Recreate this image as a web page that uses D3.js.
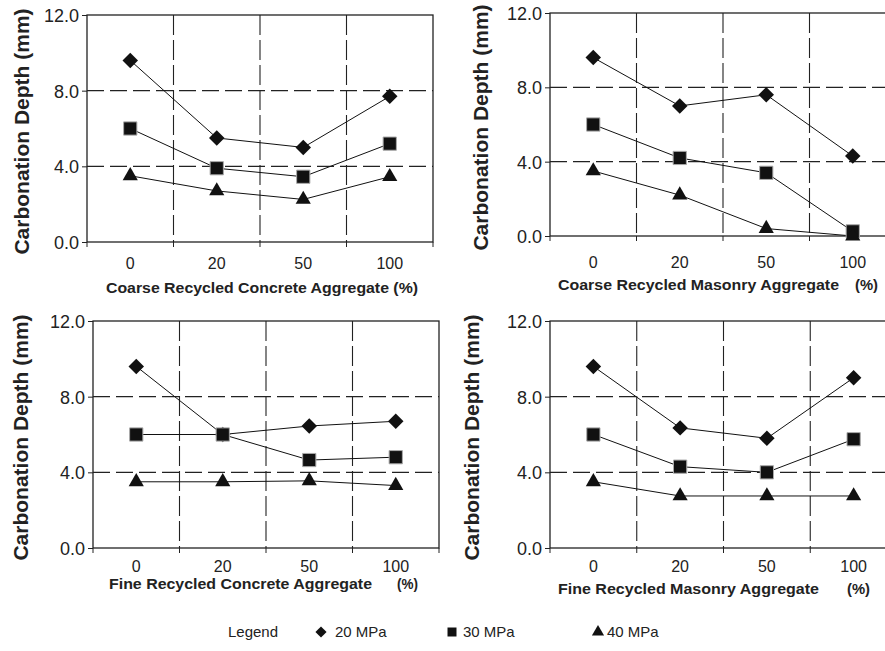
<!DOCTYPE html>
<html>
<head>
<meta charset="utf-8">
<script src="https://cdn.jsdelivr.net/npm/d3@7"></script>
<style>
  body { margin: 0; background: #fff; }
  svg { display: block; font-family: "Liberation Sans", Arimo, Arial, Helvetica, sans-serif; }
</style>
</head>
<body>
<div id="chart"></div>
<script>
// data (carbonation depth, mm)
const categories = ["0", "20", "50", "100"];
const yTicks = [0, 4, 8, 12];
const seriesNames = ["20 MPa", "30 MPa", "40 MPa"];

const coarseConcrete20 = [9.6, 5.5, 5.0, 7.7];
const coarseConcrete30 = [6.0, 3.9, 3.45, 5.2];
const coarseConcrete40 = [3.5, 2.7, 2.25, 3.45];

const coarseMasonry20 = [9.6, 7.0, 7.6, 4.3];
const coarseMasonry30 = [6.0, 4.2, 3.4, 0.25];
const coarseMasonry40 = [3.5, 2.2, 0.4, 0.0];

const fineConcrete20 = [9.6, 6.0, 6.45, 6.7];
const fineConcrete30 = [6.0, 6.0, 4.65, 4.8];
const fineConcrete40 = [3.5, 3.5, 3.55, 3.3];

const fineMasonry20 = [9.6, 6.35, 5.8, 9.0];
const fineMasonry30 = [6.0, 4.3, 4.0, 5.75];
const fineMasonry40 = [3.5, 2.75, 2.75, 2.75];

const W = 885, H = 651;
const svg = d3.select("#chart").append("svg")
    .attr("width", W)
    .attr("height", H);

// panel layout
const panels = [
    { series: [coarseConcrete20, coarseConcrete30, coarseConcrete40],
      left: 87, right: 433, top: 15, bottom: 242,
      yTitleX: 29, tickY: 269,
      xTitle: "Coarse Recycled Concrete Aggregate (%)", xTitleX: 106, xTitleW: 312, xTitleY: 293,
      pct: null },
    { series: [coarseMasonry20, coarseMasonry30, coarseMasonry40],
      left: 550, right: 896, top: 13, bottom: 236,
      yTitleX: 488, tickY: 268,
      xTitle: "Coarse Recycled Masonry Aggregate", xTitleX: 558, xTitleW: 281, xTitleY: 290,
      pct: { x: 855, w: 23 } },
    { series: [fineConcrete20, fineConcrete30, fineConcrete40],
      left: 93, right: 439, top: 321, bottom: 548,
      yTitleX: 28, tickY: 572,
      xTitle: "Fine Recycled Concrete Aggregate", xTitleX: 109, xTitleW: 263, xTitleY: 589,
      pct: { x: 397, w: 21 } },
    { series: [fineMasonry20, fineMasonry30, fineMasonry40],
      left: 550, right: 897, top: 321, bottom: 548,
      yTitleX: 479, tickY: 572,
      xTitle: "Fine Recycled Masonry Aggregate", xTitleX: 558, xTitleW: 261, xTitleY: 594,
      pct: { x: 847, w: 23 } }
];

// markers: diamond, square, triangle
const diamondPath = d3.symbol().type(d3.symbolSquare).size(120)();
const markers = [
    sel => sel.append("path").attr("d", diamondPath).attr("transform", "rotate(45)")
        .attr("fill", "#111"),
    sel => sel.append("path").attr("d", d3.symbol().type(d3.symbolSquare).size(175)())
        .attr("fill", "#111").attr("stroke", "#aaa").attr("stroke-width", 1),
    sel => sel.append("path").attr("d", d3.symbol().type(d3.symbolTriangle).size(100)())
        .attr("fill", "#111")
];

panels.forEach(p => {
    const g = svg.append("g");

    const x = d3.scaleBand().domain(categories).range([p.left, p.right]);
    const y = d3.scaleLinear().domain([0, 12]).range([p.bottom, p.top]);

    // dashed grid
    g.selectAll(".hgrid")
        .data([4, 8])
        .enter().append("line")
        .attr("x1", p.left).attr("x2", p.right)
        .attr("y1", d => y(d)).attr("y2", d => y(d))
        .attr("stroke", "#222").attr("stroke-width", 1.1)
        .attr("stroke-dasharray", "17,6");
    g.selectAll(".vgrid")
        .data(categories.slice(1))
        .enter().append("line")
        .attr("x1", d => x(d)).attr("x2", d => x(d))
        .attr("y1", p.top).attr("y2", p.bottom)
        .attr("stroke", "#222").attr("stroke-width", 1.1)
        .attr("stroke-dasharray", "20,5");

    // frame
    g.append("rect")
        .attr("x", p.left).attr("y", p.top)
        .attr("width", p.right - p.left).attr("height", p.bottom - p.top)
        .attr("fill", "none").attr("stroke", "#222").attr("stroke-width", 1.3);

    // y axis
    const yAxis = g.append("g")
        .attr("transform", `translate(${p.left},0)`)
        .call(d3.axisLeft(y).tickValues(yTicks).tickFormat(d3.format(".1f")).tickSize(5).tickPadding(3));
    yAxis.select(".domain").remove();
    yAxis.selectAll("line").attr("stroke", "#222");
    yAxis.selectAll("text")
        .attr("fill", "#222")
        .style("font-size", "18px")
        .attr("dy", "0.36em");

    // x ticks at category boundaries
    const bounds = categories.map(c => x(c)).concat([x.range()[1]]);
    g.selectAll(".xtick")
        .data(bounds)
        .enter().append("line")
        .attr("x1", d => d).attr("x2", d => d)
        .attr("y1", p.bottom).attr("y2", p.bottom + 5)
        .attr("stroke", "#222");
    g.selectAll(".xlabel")
        .data(categories)
        .enter().append("text")
        .attr("x", d => x(d) + x.bandwidth() / 2)
        .attr("y", p.tickY)
        .attr("text-anchor", "middle")
        .attr("fill", "#222")
        .style("font-size", "16px")
        .text(d => d);

    // lines and markers
    p.series.forEach(vals => {
        const pts = vals.map((v, i) => [x(categories[i]) + x.bandwidth() / 2, y(v)]);
        g.append("path")
            .attr("d", d3.line()(pts))
            .attr("fill", "none")
            .attr("stroke", "#111")
            .attr("stroke-width", 1);
    });
    p.series.forEach((vals, si) => {
        vals.forEach((v, i) => {
            const m = g.append("g")
                .attr("transform", `translate(${x(categories[i]) + x.bandwidth() / 2},${y(v)})`);
            markers[si](m);
        });
    });

    // axis titles
    g.append("text")
        .attr("transform", `translate(${p.yTitleX},${(p.top + p.bottom) / 2 + 3}) rotate(-90)`)
        .attr("text-anchor", "middle")
        .attr("fill", "#222")
        .style("font-size", "21px")
        .style("font-weight", "bold")
        .text("Carbonation Depth (mm)");

    g.append("text")
        .attr("x", p.xTitleX)
        .attr("y", p.xTitleY)
        .attr("textLength", p.xTitleW)
        .attr("lengthAdjust", "spacingAndGlyphs")
        .attr("fill", "#222")
        .style("font-size", "15px")
        .style("font-weight", "bold")
        .text(p.xTitle);
    if (p.pct) {
        g.append("text")
            .attr("x", p.pct.x)
            .attr("y", p.xTitleY)
            .attr("textLength", p.pct.w)
            .attr("lengthAdjust", "spacingAndGlyphs")
            .attr("fill", "#222")
            .style("font-size", "15px")
            .style("font-weight", "bold")
            .text("(%)");
    }
});

// legend
const legend = svg.append("g").style("font-size", "15px").attr("fill", "#222");
legend.append("text").attr("x", 228).attr("y", 637).text("Legend");
const legendPos = [
    { mx: 321, tx: 335, scale: 0.72 },
    { mx: 452, tx: 463, scale: 0.68 },
    { mx: 598, tx: 607, scale: 0.8 }
];
seriesNames.forEach((name, i) => {
    const m = legend.append("g")
        .attr("transform", `translate(${legendPos[i].mx},632) scale(${legendPos[i].scale})`);
    markers[i](m);
    m.selectAll("path").attr("stroke", "none");
    legend.append("text")
        .attr("x", legendPos[i].tx)
        .attr("y", 637)
        .text(name);
});
</script>
</body>
</html>
